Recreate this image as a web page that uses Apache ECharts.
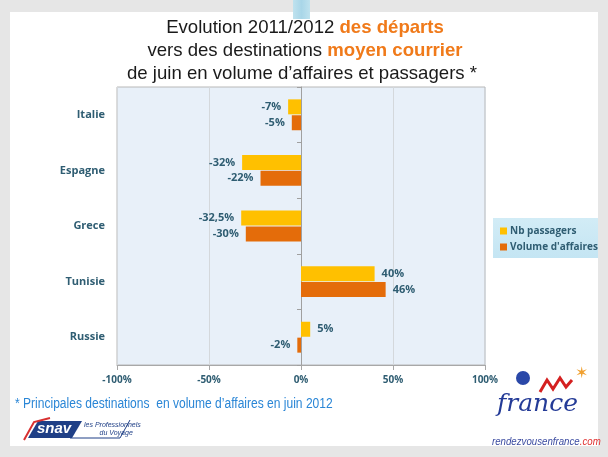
<!DOCTYPE html>
<html><head><meta charset="utf-8">
<script src="https://cdn.jsdelivr.net/npm/echarts@6/dist/echarts.min.js"></script>
<style>html,body{margin:0;padding:0;background:#e6e6e6;}#c{width:608px;height:457px;}</style>
</head><body><div id="c"></div>
<script>
const categories = ['Italie', 'Espagne', 'Grece', 'Tunisie', 'Russie'];
const passagers = [-7, -32, -32.5, 40, 5];
const volume = [-5, -22, -30, 46, -2];
const xTicks = [-100, -50, 0, 50, 100];
const seriesNames = ['Nb passagers', "Volume d'affaires"];

const teal = '#2f5d72';
const fmt = v => (String(v).replace('.', ',')) + '%';
function lbl() {
  return {
    show: true,
    position: 'right',
    distance: 7,
    color: teal,
    fontFamily: 'Open Sans',
    fontWeight: 'bold',
    fontSize: 11,
    formatter: p => fmt(p.value)
  };
}
function mkData(arr) {
  return arr.map(v => ({ value: v, label: { position: v < 0 ? 'left' : 'right' } }));
}
const chart = echarts.init(document.getElementById('c'));
const tf = 18.6;
chart.setOption({
  animation: false,
  backgroundColor: '#e6e6e6',
  graphic: [
    { type: 'rect', z: -10, shape: { x: 10, y: 12, width: 588, height: 434 }, style: { fill: '#ffffff' } },
    { type: 'rect', z: -5, shape: { x: 293, y: 0, width: 17, height: 19 },
      style: { fill: new echarts.graphic.LinearGradient(0, 0, 1, 0, [{offset:0,color:'#bfe2ee'},{offset:0.5,color:'#a9d6e8'},{offset:1,color:'#bfe2ee'}]) } },
    { type: 'text', x: 305, y: 18, style: {
        text: '{n|Evolution 2011/2012 }{o|des départs}', textAlign: 'center',
        rich: {
          n: { fontFamily: 'Liberation Sans', fontSize: tf, fill: '#1a1a1a' },
          o: { fontFamily: 'Liberation Sans', fontSize: tf, fontWeight: 'bold', fill: '#f07a1a' }
        } } },
    { type: 'text', x: 305, y: 41, style: {
        text: '{n|vers des destinations }{o|moyen courrier}', textAlign: 'center',
        rich: {
          n: { fontFamily: 'Liberation Sans', fontSize: tf, fill: '#1a1a1a' },
          o: { fontFamily: 'Liberation Sans', fontSize: tf, fontWeight: 'bold', fill: '#f07a1a' }
        } } },
    { type: 'text', x: 302, y: 64, style: {
        text: 'de juin en volume d\u2019affaires et passagers *', textAlign: 'center',
        fontFamily: 'Liberation Sans', fontSize: tf, fill: '#1a1a1a' } },
    { type: 'rect', shape: { x: 493, y: 218, width: 105, height: 40 },
      style: { fill: new echarts.graphic.LinearGradient(0, 0, 0, 1, [{offset:0,color:'#d2ecf6'},{offset:1,color:'#c4e5f3'}]) }, z: 1 },
    { type: 'text', x: 15, y: 397, scaleX: 0.86, style: { text: '* Principales destinations  en volume d\u2019affaires en juin 2012',
        fontFamily: 'Liberation Sans', fontSize: 14, fill: '#2a86d6' } },
    // snav logo approximation
    { type: 'polygon', shape: { points: [[28,438],[38,421],[82,421],[72,438]] }, style: { fill: '#1f3f86' } },
    { type: 'polyline', shape: { points: [[24,440],[34,422],[50,418]] }, style: { stroke: '#d83030', lineWidth: 2, fill: null } },
    { type: 'text', left: 37, top: 421, style: { text: 'snav', fontFamily: 'Liberation Sans', fontStyle: 'italic', fontWeight: 'bold', fontSize: 15, fill: '#ffffff' } },
    { type: 'polyline', shape: { points: [[70,438],[120,438],[130,420]] }, style: { stroke: '#1f3f86', lineWidth: 1, fill: null } },
    { type: 'text', left: 84, top: 421, style: { text: 'les Professionnels\n        du Voyage', fontFamily: 'Liberation Sans', fontStyle: 'italic', fontSize: 7, fill: '#1f3f86', lineHeight: 8 } },
    // France logo approximation
    { type: 'text', left: 497, top: 392, style: { text: 'france', fontFamily: 'DejaVu Serif', fontStyle: 'italic', fontSize: 25, fill: '#243b97' } },
    { type: 'polyline', shape: { points: [[540,392],[547,380],[553,389],[560,378],[566,387],[572,380]] }, style: { stroke: '#d42020', lineWidth: 3, fill: null } },
    { type: 'circle', shape: { cx: 523, cy: 378, r: 7 }, style: { fill: '#2a48a8' } },
    { type: 'text', left: 575, top: 366, style: { text: '\u2736', fontSize: 16, fill: '#f0a030' } },
    { type: 'text', x: 492, y: 436, scaleX: 0.88, style: { text: '{a|rendezvousenfrance}{b|.com}', rich: {
        a: { fontFamily: 'Liberation Sans', fontStyle: 'italic', fontSize: 11, fill: '#3a4aa0' },
        b: { fontFamily: 'Liberation Sans', fontStyle: 'italic', fontSize: 11, fill: '#e03030' } } } }
  ],
  legend: {
    orient: 'vertical', left: 495, top: 221, itemGap: 6, itemWidth: 7, itemHeight: 7, icon: 'rect',
    z: 5,
    data: seriesNames,
    textStyle: { color: teal, fontFamily: 'Open Sans', fontWeight: 'bold', fontSize: 10, padding: [0,0,0,-2] }
  },
  grid: { left: 117, top: 87, width: 368, height: 278, show: true, backgroundColor: '#e8f0f9', borderColor: '#b8b8b8', borderWidth: 1 },
  xAxis: {
    type: 'value', min: -100, max: 100, interval: 50,
    axisLine: { show: true, onZero: false, lineStyle: { color: '#a8a8a8' } },
    axisTick: { show: true, length: 5, lineStyle: { color: '#a8a8a8' } },
    splitLine: { show: true, lineStyle: { color: '#d4d8dc' } },
    axisLabel: { color: teal, fontFamily: 'Open Sans', fontWeight: 'bold', fontSize: 10, margin: 10,
      formatter: v => xTicks.includes(v) ? v + '%' : '' }
  },
  yAxis: [{
    type: 'category', data: categories, inverse: true,
    axisLine: { show: false, onZero: false },
    axisTick: { show: false },
    axisLabel: { color: teal, fontFamily: 'Open Sans', fontWeight: 'bold', fontSize: 11, margin: 12 }
  }, {
    type: 'category', data: categories, inverse: true, position: 'left',
    axisLine: { show: true, onZero: true, lineStyle: { color: '#a0a0a0' } },
    axisTick: { show: true, length: 4, lineStyle: { color: '#a0a0a0' } },
    axisLabel: { show: false }
  }],
  series: [
    { name: seriesNames[0], type: 'bar', data: mkData(passagers), itemStyle: { color: '#ffc000' },
      barWidth: 15, barGap: '6%', label: lbl() },
    { name: seriesNames[1], type: 'bar', data: mkData(volume), itemStyle: { color: '#e46c0a' },
      barWidth: 15, barGap: '6%', label: lbl() }
  ]
});
</script></body></html>
